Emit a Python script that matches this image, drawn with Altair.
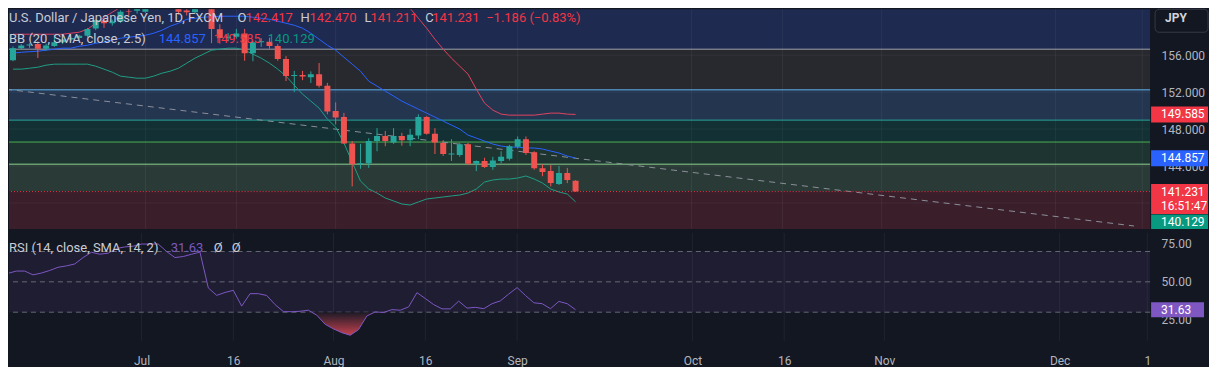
import altair as alt
import pandas as pd

# ---------------- data (bar index 0 = 2024-06-07, daily bars) ----------------
opens = [155.45, 156.75, 157.05, 157.20, 156.70, 157.00, 157.40, 157.70, 157.85, 158.10,
         158.90, 159.75, 159.45, 159.65, 160.75, 160.80, 160.70, 161.50, 161.35, 161.65,
         161.20, 160.85, 160.65, 161.30, 161.65, 158.80, 157.90, 158.00, 158.35, 156.20,
         157.40, 157.45, 157.00, 155.60, 153.75, 153.85, 153.60, 153.95, 152.70, 149.95,
         149.30, 146.45, 144.20, 144.30, 146.70, 147.25, 146.55, 147.25, 146.80, 147.30,
         149.30, 147.50, 146.50, 145.25, 145.20, 146.35, 144.25, 144.55, 143.90, 144.55,
         144.80, 146.10, 146.90, 145.50, 143.75, 143.45, 142.05, 143.25, 142.417]
highs = [156.95, 157.20, 157.30, 157.50, 157.25, 158.20, 157.80, 158.00, 158.20, 158.95,
         159.90, 159.90, 159.85, 160.85, 161.00, 161.20, 161.70, 161.75, 161.95, 161.80,
         161.30, 161.15, 161.40, 161.75, 161.80, 159.35, 158.40, 158.85, 158.85, 157.50,
         157.85, 157.90, 157.20, 155.90, 154.30, 154.30, 154.25, 155.15, 153.00, 150.90,
         149.75, 146.70, 146.40, 147.00, 148.10, 147.80, 148.10, 147.60, 148.00, 149.60,
         149.40, 148.10, 146.80, 146.90, 146.50, 146.50, 144.60, 144.90, 145.00, 145.60,
         146.30, 147.20, 147.20, 145.60, 144.20, 144.10, 144.00, 143.80, 142.470]
lows = [155.35, 156.60, 156.80, 155.70, 156.50, 156.90, 157.20, 157.55, 157.70, 157.95,
        158.70, 158.95, 159.20, 159.50, 160.30, 160.50, 160.60, 161.30, 161.10, 161.10,
        160.40, 160.30, 160.50, 161.10, 157.30, 157.25, 157.50, 157.80, 155.40, 155.35,
        156.90, 156.70, 155.40, 153.20, 152.00, 153.30, 153.00, 152.50, 149.60, 148.50,
        146.40, 141.80, 143.70, 143.80, 145.60, 146.15, 146.40, 146.20, 146.15, 146.90,
        147.40, 145.30, 145.10, 144.55, 145.00, 144.10, 143.45, 143.80, 143.60, 144.30,
        144.60, 145.90, 145.20, 143.60, 142.90, 141.80, 141.95, 142.15, 141.211]
closes = [156.75, 157.05, 157.15, 156.70, 157.05, 157.40, 157.70, 157.85, 158.10, 158.85,
          159.80, 159.45, 159.65, 160.70, 160.70, 161.00, 161.50, 161.45, 161.65, 161.20,
          160.70, 160.65, 161.30, 161.65, 158.85, 157.85, 158.00, 158.35, 156.20, 157.40,
          157.50, 157.00, 155.60, 153.75, 153.85, 153.70, 153.95, 152.70, 149.90, 149.25,
          146.45, 144.20, 144.30, 146.70, 147.25, 146.70, 147.25, 146.80, 147.40, 149.30,
          147.50, 146.55, 145.30, 145.35, 146.35, 144.25, 144.55, 143.90, 144.60, 145.00,
          146.15, 146.90, 145.40, 143.75, 143.35, 142.15, 143.25, 142.50, 141.231]

bb_basis = [156.22, 156.32, 156.38, 156.43, 156.54, 156.65, 156.76, 156.76, 156.97, 157.08,
            157.30, 157.41, 157.62, 157.84, 157.95, 158.05, 158.16, 158.38, 158.70, 159.14,
            159.46, 159.89, 160.00, 160.11, 160.16, 160.22, 160.22, 160.22, 160.22, 160.11,
            160.00, 159.89, 159.68, 159.46, 159.24, 158.92, 158.38, 157.73, 157.08, 156.54,
            155.78, 155.03, 154.27, 153.19, 152.65, 152.11, 151.57, 151.03, 150.59, 150.16,
            149.73, 149.30, 148.86, 148.43, 148.00, 147.35, 147.03, 146.70, 146.38, 146.16,
            146.05, 146.05, 145.95, 145.95, 145.84, 145.62, 145.41, 145.08, 144.857]
bb_upper = [158.27, 158.27, 158.27, 158.27, 158.27, 158.27, 158.27, 158.38, 158.49, 158.81,
            159.46, 160.11, 160.65, 161.19, 161.73, 162.20, 162.60, 163.00, 163.30, 163.50,
            163.60, 163.70, 163.80, 163.90, 164.00, 164.00, 164.00, 164.00, 164.00, 163.90,
            163.80, 163.70, 163.60, 163.50, 163.50, 163.40, 163.40, 163.40, 163.50, 163.60,
            164.00, 164.10, 164.00, 163.60, 163.20, 162.80, 162.30, 161.85, 161.08, 160.00,
            158.92, 157.73, 156.65, 155.68, 154.81, 153.95, 152.32, 150.81, 150.05, 149.62,
            149.51, 149.51, 149.51, 149.51, 149.62, 149.73, 149.73, 149.62, 149.585]
bb_lower = [154.49, 154.49, 154.59, 154.70, 154.92, 155.03, 155.03, 155.03, 155.03, 155.03,
            154.81, 154.49, 154.16, 153.73, 153.62, 153.51, 153.51, 153.73, 154.05, 154.27,
            154.59, 155.14, 155.68, 156.11, 156.54, 156.65, 156.76, 156.76, 156.54, 156.11,
            155.68, 155.14, 154.49, 153.73, 152.76, 151.78, 151.03, 150.27, 149.08, 148.22,
            146.49, 144.43, 142.38, 141.51, 141.08, 140.54, 140.22, 139.89, 139.78, 140.11,
            140.43, 140.54, 140.65, 140.76, 140.86, 141.08, 141.51, 142.27, 142.49, 142.59,
            142.59, 142.70, 142.92, 142.59, 142.16, 141.51, 141.19, 140.97, 140.129]

rsi_index = list(range(-1, 69))
rsi_values = [50.0, 55.6, 57.1, 57.1, 54.6, 55.8, 57.5, 59.6, 60.5, 61.8,
              66.0, 69.5, 68.2, 68.9, 72.0, 73.0, 73.5, 74.9, 74.9, 74.9,
              70.0, 66.0, 66.7, 68.2, 69.6, 46.0, 41.1, 43.0, 44.4, 34.0,
              42.2, 42.2, 41.0, 35.0, 30.4, 30.3, 30.6, 31.3, 28.0, 22.0,
              19.0, 16.5, 14.8, 18.5, 27.5, 30.2, 29.8, 31.7, 31.3, 33.5,
              42.9, 39.0, 35.0, 32.2, 32.2, 37.3, 32.7, 33.2, 32.3, 35.6,
              37.5, 42.0, 46.2, 41.0, 36.2, 35.6, 32.3, 37.1, 35.6, 31.63]

fib_levels = [156.65, 152.25, 148.97, 146.60, 144.20]
fib_line_colors = ["#a0a3ab", "#5eb6f0", "#26a69a", "#4caf50", "#8ed28e"]
zone_tops = [160.97, 156.65, 152.25, 148.97, 146.60, 144.20, 141.231]
zone_bottoms = [156.65, 152.25, 148.97, 146.60, 144.20, 141.231, 137.19]
zone_fills = ["#1e2a4f", "#28292f", "#243550", "#133035", "#1d3430", "#2a3b37", "#3a1f2b"]

trend_idx = [-0.84, 135.5]
trend_price = [152.32, 137.51]

time_tick_idx = [16, 27, 39, 50, 61, 82, 93, 105, 126, 136.5]
time_tick_labels = ["Jul", "16", "Aug", "16", "Sep", "Oct", "16", "Nov", "Dec", "1"]
price_ticks = [144, 148, 152, 156]
grid_prices = [140, 144, 148, 152, 156]
rsi_ticks = [25, 50, 75]
rsi_levels = [70, 50, 30]

# price-axis value boxes
box_lo = [148.72, 143.99, 138.81, 137.19]
box_hi = [150.45, 145.72, 142.05, 138.75]
box_fill = ["#f23645", "#2962ff", "#f23645", "#089981"]
box_text_y = [149.585, 144.857, 141.231, 139.67, 137.89]
box_text = ["149.585", "144.857", "141.231", "16:51:47", "140.129"]

legend1_text = ["U.S. Dollar / Japanese Yen, 1D, FXCM", "O", "142.417", "H", "142.470",
                "L", "141.211", "C", "141.231", "\u22121.186 (\u22120.83%)"]
legend1_x = [0, 229, 237, 292, 301, 356, 362, 417, 424, 478]
legend1_col = ["#c9ccd4", "#c9ccd4", "#f23645", "#c9ccd4", "#f23645",
               "#c9ccd4", "#f23645", "#c9ccd4", "#f23645", "#f23645"]
legend2_text = ["BB (20, SMA, close, 2.5)", "144.857", "149.585", "140.129"]
legend2_x = [0, 150, 205, 259]
legend2_col = ["#c9ccd4", "#2962ff", "#f23645", "#089981"]
legend3_text = ["RSI (14, close, SMA, 14, 2)", "31.63", "\u00d8", "\u00d8"]
legend3_x = [0, 162, 205, 223]
legend3_col = ["#c9ccd4", "#7e57c2", "#c9ccd4", "#c9ccd4"]

# ---------------- layout constants ----------------
PW, PH, RH = 1143, 220, 108
XMIN, XMAX = 0.12, 136.84
PMIN, PMAX = 137.19, 160.97
RMIN, RMAX = 11.18, 82.24
AX_L, AX_R = 1144, 1201
FONT = "Roboto"
BG = "#131722"
AXIS_TXT = "#b2b5be"
UP, DOWN = "#26a69a", "#ef5350"

xs = alt.Scale(domain=[XMIN, XMAX], nice=False, zero=False)
ps = alt.Scale(domain=[PMIN, PMAX], nice=False, zero=False)
rs = alt.Scale(domain=[RMIN, RMAX], nice=False, zero=False)

price_axis = alt.Axis(orient="right", values=price_ticks, format=".3f", labelColor=AXIS_TXT,
                      labelFontSize=12, labelFont=FONT, labelPadding=11, ticks=False,
                      domain=False, grid=False, title=None)
rsi_axis = alt.Axis(orient="right", values=rsi_ticks, format=".2f", labelColor=AXIS_TXT,
                    labelFontSize=12, labelFont=FONT, labelPadding=11, ticks=False,
                    domain=False, grid=False, title=None)
label_expr = "".join(f"datum.value == {v} ? '{t}' : " for v, t in zip(time_tick_idx, time_tick_labels)) + "''"
time_axis = alt.Axis(orient="bottom", values=time_tick_idx, labelExpr=label_expr, labelColor=AXIS_TXT,
                     labelFontSize=12, labelFont=FONT, labelPadding=15, ticks=False, tickSize=0,
                     domain=False, grid=False, labelFlush=False, labelOverlap=False, title=None)


def PX():
    return alt.X("i:Q", scale=xs, axis=None)


def PY(field):
    return alt.Y(field, scale=ps, axis=price_axis)


def RX():
    return alt.X("i:Q", scale=xs, axis=time_axis)


def RY(field):
    return alt.Y(field, scale=rs, axis=rsi_axis)


bars = pd.DataFrame({"i": list(range(len(closes))), "open": opens, "high": highs,
                     "low": lows, "close": closes, "upper": bb_upper,
                     "basis": bb_basis, "lower": bb_lower})
rsi_df = pd.DataFrame({"i": rsi_index, "rsi": rsi_values})
one = pd.DataFrame({"k": [0]})
tick_df = pd.DataFrame({"i": time_tick_idx})


def label(txt, px, py, col, size=13, weight="normal"):
    return alt.Chart(one).mark_text(
        text=txt, align="left", baseline="middle", font=FONT, fontSize=size,
        fontWeight=weight, color=col
    ).encode(x=alt.value(px), y=alt.value(py))


# ---------------- price pane ----------------
zones = alt.Chart(pd.DataFrame({"lo": zone_bottoms, "hi": zone_tops, "fill": zone_fills})).mark_rect().encode(
    x=alt.value(0), x2=alt.value("width"),
    y=PY("lo:Q"), y2="hi:Q",
    color=alt.Color("fill:N", scale=None))

hgrid = alt.Chart(pd.DataFrame({"p": grid_prices})).mark_rule(color="#ffffff", opacity=0.05).encode(
    y=PY("p:Q"))
vgrid = alt.Chart(tick_df).mark_rule(color="#ffffff", opacity=0.06).encode(x=PX())

fib = alt.Chart(pd.DataFrame({"level": fib_levels, "col": fib_line_colors})).mark_rule(strokeWidth=1).encode(
    y=PY("level:Q"), color=alt.Color("col:N", scale=None))

trend = alt.Chart(pd.DataFrame({"i": trend_idx, "p": trend_price})).mark_line(
    clip=True, strokeDash=[6, 5], color="#8c8f99", strokeWidth=1).encode(x=PX(), y=PY("p:Q"))

bb_up = alt.Chart(bars).mark_line(clip=True, color="#e0435f", strokeWidth=1).encode(x=PX(), y=PY("upper:Q"))
bb_mid = alt.Chart(bars).mark_line(clip=True, color="#2962ff", strokeWidth=1).encode(x=PX(), y=PY("basis:Q"))
bb_low = alt.Chart(bars).mark_line(clip=True, color="#1f9e86", strokeWidth=1).encode(x=PX(), y=PY("lower:Q"))

cond = alt.condition("datum.close >= datum.open", alt.value(UP), alt.value(DOWN))
wicks = alt.Chart(bars).mark_rule(clip=True, strokeWidth=1).encode(
    x=PX(), y=PY("low:Q"), y2="high:Q", color=cond)
bodies = alt.Chart(bars).mark_bar(clip=True, size=6).encode(
    x=PX(), y=PY("open:Q"), y2="close:Q", color=cond)

price_line = alt.Chart(pd.DataFrame({"p": [closes[-1]]})).mark_rule(
    color="#f23645", strokeDash=[1, 2], strokeWidth=1).encode(y=PY("p:Q"))

boxes = alt.Chart(pd.DataFrame({"lo": box_lo, "hi": box_hi, "fill": box_fill})).mark_rect().encode(
    x=alt.value(AX_L), x2=alt.value(AX_R),
    y=PY("lo:Q"), y2="hi:Q",
    color=alt.Color("fill:N", scale=None))
box_labels = alt.Chart(pd.DataFrame({"ty": box_text_y, "t": box_text})).mark_text(
    align="left", baseline="middle", font=FONT, fontSize=12, color="#ffffff").encode(
    x=alt.value(1154), y=PY("ty:Q"), text="t:N")

jpy_box = alt.Chart(one).mark_rect(fill=BG, stroke="#363a45", strokeWidth=1, cornerRadius=4).encode(
    x=alt.value(1148), x2=alt.value(AX_R), y=alt.value(0), y2=alt.value(23))
jpy_txt = label("JPY", 1158, 9, "#d1d4dc", size=12, weight="bold")

legend_layers = [label(t, x, 9, c) for t, x, c in zip(legend1_text, legend1_x, legend1_col)]
legend_layers += [label(t, x, 30, c) for t, x, c in zip(legend2_text, legend2_x, legend2_col)]

price = alt.layer(zones, hgrid, vgrid, fib, trend, bb_up, bb_mid, bb_low, wicks, bodies,
                  price_line, *legend_layers, boxes, box_labels, jpy_box, jpy_txt
                  ).properties(width=PW, height=PH)

# ---------------- RSI pane ----------------
band = alt.Chart(pd.DataFrame({"lo": [30], "hi": [70]})).mark_rect(color="#7e57c2", opacity=0.1).encode(
    x=alt.value(0), x2=alt.value("width"),
    y=RY("lo:Q"), y2="hi:Q")
vgrid2 = alt.Chart(tick_df).mark_rule(color="#ffffff", opacity=0.06).encode(x=RX())
levels = alt.Chart(pd.DataFrame({"lvl": rsi_levels})).mark_rule(
    color="#787b86", strokeDash=[5, 4], opacity=0.8).encode(y=RY("lvl:Q"))

grad = alt.LinearGradient(gradient="linear",
                          stops=[alt.GradientStop(color="#1c1a26", offset=0),
                                 alt.GradientStop(color="#c4424f", offset=1)],
                          x1=0, x2=0, y1=0, y2=1)
oversold = alt.Chart(rsi_df).transform_calculate(lo="min(datum.rsi, 30)").mark_area(
    clip=True, color=grad).encode(x=RX(), y=RY("lo:Q"), y2=alt.datum(30))
rsi_line = alt.Chart(rsi_df).mark_line(clip=True, color="#7e57c2", strokeWidth=1).encode(
    x=RX(), y=RY("rsi:Q"))

rsi_box = alt.Chart(pd.DataFrame({"lo": [26.7], "hi": [36.56]})).mark_rect(color="#7e57c2").encode(
    x=alt.value(AX_L), x2=alt.value(1197), y=RY("lo:Q"), y2="hi:Q")
rsi_box_txt = alt.Chart(pd.DataFrame({"v": [rsi_values[-1]], "t": ["31.63"]})).mark_text(
    align="left", baseline="middle", font=FONT, fontSize=12, color="#ffffff").encode(
    x=alt.value(1154), y=RY("v:Q"), text="t:N")

rsi_legend = [label(t, x, 15, c) for t, x, c in zip(legend3_text, legend3_x, legend3_col)]

rsi = alt.layer(band, vgrid2, levels, oversold, rsi_line, *rsi_legend, rsi_box, rsi_box_txt
                ).properties(width=PW, height=RH)

chart = alt.vconcat(price, rsi, spacing=2).properties(
    background=BG, padding=0).configure_view(strokeOpacity=0)

chart.save("out.html", embed_options={"renderer": "svg", "actions": False})
